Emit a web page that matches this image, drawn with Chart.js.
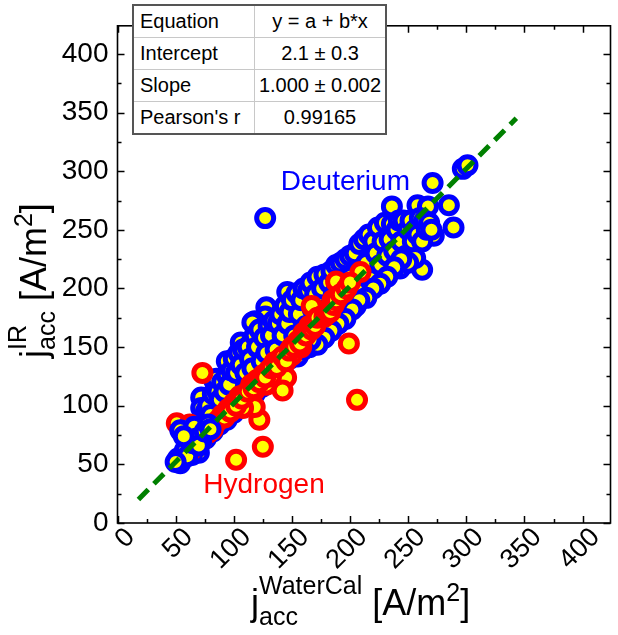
<!DOCTYPE html>
<html>
<head>
<meta charset="utf-8">
<script src="https://cdn.jsdelivr.net/npm/chart.js@4.4.1/dist/chart.umd.min.js"></script>
<style>
  html, body { margin: 0; padding: 0; background: #fff; overflow: hidden; }
  #wrap { position: relative; width: 624px; height: 635px; }
  #fit-table {
    position: absolute; left: 132px; top: 4px; width: 255px; height: 127px;
    border-collapse: collapse; background: #fff; color: #000;
    font: 20px "Liberation Sans", Arial, sans-serif;
    border: 2px solid #555;
  }
  #fit-table td { border: 1px solid #c8c8c8; padding: 0 0 0 6px; height: 31px; white-space: nowrap; }
  #fit-table td.k { width: 114px; }
  #fit-table td.v { text-align: center; padding: 0; }
</style>
</head>
<body>
<div id="wrap">
  <canvas id="chart"></canvas>
  <table id="fit-table">
    <tr><td class="k">Equation</td><td class="v">y = a + b*x</td></tr>
    <tr><td class="k">Intercept</td><td class="v">2.1 ± 0.3</td></tr>
    <tr><td class="k">Slope</td><td class="v">1.000 ± 0.002</td></tr>
    <tr><td class="k">Pearson's r</td><td class="v">0.99165</td></tr>
  </table>
</div>
<script>
// --- data [x, y] in A/m^2 ---
const deuterium = [
  [219,378],[297,302],[301,305],[271,290],[236,270],[258,271],[267,270],[285,271],[289,252],[272,245],
  [262,216],[243,217],[127,260],[223,227],[146,197],[128,184],[127,176],[118,172],[154,185],[173,206],
  [218,243],[235,244],[244,248],[250,246],[245,233],[116,171],[106,154],[128,156],[94,138],[113,138],
  [83,122],[100,123],[72,107],[159,170],[170,204],[126,131],[85,123],[84,104],[116,155],[110,138],
  [84,89],[103,104],[133,135],[95,114],[112,137],[125,132],[130,142],[144,147],[81,98],[72,98],
  [115,153],[160,158],[86,92],[88,96],[90,88],[92,100],[96,102],[98,110],[102,112],[104,118],
  [108,126],[110,115],[114,122],[118,130],[120,140],[122,125],[124,148],[132,150],[134,140],[136,160],
  [138,145],[140,155],[142,138],[148,165],[150,152],[152,175],[156,160],[158,148],[162,175],[164,165],
  [166,190],[168,160],[172,178],[175,195],[176,170],[178,185],[180,200],[182,172],[184,190],[186,210],
  [188,176],[190,198],[192,188],[194,215],[196,184],[198,205],[200,195],[202,218],[204,190],[206,208],
  [208,228],[210,200],[212,215],[214,235],[216,205],[220,220],[222,245],[224,212],[226,232],[228,248],
  [230,222],[232,238],[234,255],[236,228],[238,245],[240,255],[242,235],[246,252],[248,240],[250,256],
  [252,232],[254,250],[256,256],[260,254],[264,252],[230,252],[225,250],[210,225],[200,210],[190,205],
  [180,190],[170,185],[165,178],[160,180],[150,168],[140,162],[135,152],[228,214],[236,220],[215,198],
  [205,185],[195,178],[185,170],[175,160],[165,150],[155,142],
  [76,95],[78,100],[80,92],[82,110],[86,112],[88,105],[90,120],[92,112],[94,126],[96,118],
  [98,130],[100,140],[102,128],[104,145],[106,135],[108,148],[110,128],[112,150],[114,140],[116,132],
  [118,160],[120,150],[122,165],[124,138],[126,158],[128,145],[130,168],[132,160],[134,172],[136,148],
  [138,170],[140,178],[142,160],[144,185],[146,170],[148,180],[150,190],[152,160],[154,196],[156,178],
  [158,190],[160,200],[162,168],[164,198],[166,205],[168,182],[170,195],[172,210],[174,186],[176,200],
  [178,212],[180,182],[182,205],[184,215],[186,195],[188,220],[190,185],[192,222],[194,200],[196,225],
  [198,192],[200,228],[202,205],[204,230],[206,198],[208,238],[210,212],[212,242],[214,222],[216,246],
  [218,208],[220,240],[222,230],[224,252],[226,220],[228,240],[230,256],[232,228],[234,242],[236,255],
  [238,232],[240,250],[242,258],[244,240],[246,258],[248,228],[250,250],[252,258],[254,240],[256,250],
  [258,246],[260,260],[262,240],[264,258],[266,250],[268,256],[270,250],[256,226],[250,222],[244,225],
  [238,218],[232,210],[226,204],[220,200],[214,192],[208,190],[202,182],[196,174],[190,170],[184,164],
  [178,158],[172,152],[166,156],[160,148],[154,148],[148,140],[142,132],[136,128],[130,122],[124,116],
  [118,110],[112,104],[106,100],[100,94],[94,88],[88,84],[82,78],[76,72],[70,60],[64,58]
];
// lower-left deuterium points sit on top of the hydrogen ones
const deuteriumFront = [
  [54,79],[54,51],[63,65],[66,82],[72,70],[52,55],[56,58],[58,62],[60,57],[62,70],
  [65,68],[68,72],[70,66],[75,78],[78,84],[80,80],[50,52],[57,74]
];
const hydrogen = [
  [206,105],[199,153],[102,54],[125,65],[122,88],[73,128],[51,85],[209,214],[188,206],[195,197],
  [181,182],[177,178],[182,183],[143,124],[137,135],[145,124],[142,113],[118,113],[118,99],[98,96],
  [171,171],[167,185],[135,137],[60,62],[65,66],[70,72],[75,76],[80,82],[85,86],[90,92],
  [95,97],[100,102],[105,108],[110,110],[115,118],[120,122],[125,126],[130,130],[140,140],[150,150],
  [155,155],[160,162],[165,168],[175,176],[185,190],[190,193],[62,84],[108,98],[128,118],[132,125],
  [150,143],[158,150],[64,63],[68,66],[72,70],[78,77],[82,80],[87,88],[92,90],[97,95],
  [102,100],[107,106],[112,112],[117,115],[122,120],[127,124],[132,132],[137,133],[142,142],[145,138],
  [148,147],[152,150],[157,153],[162,160],[167,165],[170,168],[172,175],[178,176],[180,178],[183,180],
  [186,186],[188,190],[192,195],[197,200],[200,205]
];
const fitIntercept = 2.1;
const fitSlope = 1.000;
const fitRangeX = [18, 343];
const xTickValues = [0, 50, 100, 150, 200, 250, 300, 350, 400];
const axisMax = 424;

const FONT = '"Liberation Sans", Arial, sans-serif';
const toPts = arr => arr.map(([x, y]) => ({ x, y }));
const fitLine = fitRangeX.map(x => ({ x, y: fitIntercept + fitSlope * x }));

const pointStyle = (color) => ({
  type: 'scatter',
  pointRadius: 8.5,
  pointHoverRadius: 8.5,
  pointBorderWidth: 5,
  pointBackgroundColor: '#ffff00',
  pointBorderColor: color,
});

function drawRich(ctx, parts) {
  let u = 0;
  for (const p of parts) {
    if (p.stack) {
      let w = 0;
      for (const q of p.stack) {
        ctx.font = `${q.s}px ${FONT}`;
        ctx.fillText(q.t, u, q.dy);
        w = Math.max(w, ctx.measureText(q.t).width);
      }
      u += w;
    } else {
      ctx.font = `${p.s}px ${FONT}`;
      ctx.fillText(p.t, u, p.dy || 0);
      u += ctx.measureText(p.t).width;
    }
  }
}

const framePlugin = {
  id: 'frame',
  afterDraw(chart) {
    const { ctx, chartArea: a, scales: { x, y } } = chart;
    ctx.save();
    ctx.strokeStyle = '#000';
    ctx.lineWidth = 1.6;
    ctx.strokeRect(a.left, a.top, a.right - a.left, a.bottom - a.top);

    // inward ticks on all four sides
    ctx.lineWidth = 1.5;
    ctx.beginPath();
    for (let v = 0; v <= 400; v += 25) {
      const len = v % 50 === 0 ? 7 : 4;
      const px = Math.round(x.getPixelForValue(v)) + 0.5;
      ctx.moveTo(px, a.bottom); ctx.lineTo(px, a.bottom - len);
      ctx.moveTo(px, a.top); ctx.lineTo(px, a.top + len);
      const py = Math.round(y.getPixelForValue(v)) + 0.5;
      ctx.moveTo(a.left, py); ctx.lineTo(a.left + len, py);
      ctx.moveTo(a.right, py); ctx.lineTo(a.right - len, py);
    }
    ctx.stroke();

    // rotated x tick labels
    ctx.fillStyle = '#000';
    ctx.font = `27px ${FONT}`;
    ctx.textAlign = 'right';
    ctx.textBaseline = 'middle';
    for (const v of xTickValues) {
      const px = x.getPixelForValue(v);
      ctx.save();
      ctx.translate(px + 13, a.bottom + 10);
      ctx.rotate(-Math.PI / 4);
      ctx.fillText(String(v), 0, 0);
      ctx.restore();
    }

    // axis titles
    ctx.textAlign = 'left';
    ctx.textBaseline = 'alphabetic';
    ctx.save();
    ctx.translate(251, 615);
    drawRich(ctx, [
      { t: 'j', s: 36 },
      { stack: [{ t: 'WaterCal', s: 25, dy: -21 }, { t: 'acc', s: 25, dy: 10 }] },
      { t: ' [A/m', s: 36 },
      { t: '2', s: 25, dy: -14 },
      { t: ']', s: 36 },
    ]);
    ctx.restore();

    ctx.save();
    ctx.translate(46, 358);
    ctx.rotate(-Math.PI / 2);
    drawRich(ctx, [
      { t: 'j', s: 36 },
      { stack: [{ t: 'IR', s: 25, dy: -20 }, { t: 'acc', s: 25, dy: 9 }] },
      { t: ' [A/m', s: 36 },
      { t: '2', s: 25, dy: -14 },
      { t: ']', s: 36 },
    ]);
    ctx.restore();

    // series labels
    ctx.font = `28px ${FONT}`;
    ctx.textAlign = 'center';
    ctx.fillStyle = '#0000ff';
    ctx.fillText('Deuterium', x.getPixelForValue(196), y.getPixelForValue(284));
    ctx.fillStyle = '#ff0000';
    ctx.fillText('Hydrogen', x.getPixelForValue(126), y.getPixelForValue(26));
    ctx.restore();
  }
};

new Chart(document.getElementById('chart'), {
  type: 'scatter',
  data: {
    datasets: [
      {
        type: 'line',
        label: 'Fit',
        data: fitLine,
        borderColor: '#008000',
        borderWidth: 5,
        borderDash: [14, 8],
        pointRadius: 0,
        fill: false,
        order: 0,
      },
      { label: 'Deuterium front', data: toPts(deuteriumFront), ...pointStyle('#0000ff'), order: 1 },
      { label: 'Hydrogen', data: toPts(hydrogen), ...pointStyle('#ff0000'), order: 2 },
      { label: 'Deuterium', data: toPts(deuterium), ...pointStyle('#0000ff'), order: 3 },
    ],
  },
  options: {
    responsive: true,
    maintainAspectRatio: false,
    animation: false,
    layout: { padding: { top: 22.7, right: 4.5, left: 0, bottom: 0 } },
    plugins: { legend: { display: false }, tooltip: { enabled: false } },
    scales: {
      x: {
        type: 'linear',
        min: 0,
        max: axisMax,
        grid: { display: false, drawTicks: false },
        border: { display: false },
        ticks: { display: false },
        afterFit: (s) => { s.height = 112; },
      },
      y: {
        type: 'linear',
        min: 0,
        max: axisMax,
        grid: { display: false, drawTicks: false },
        border: { display: false },
        ticks: {
          stepSize: 50,
          includeBounds: false,
          color: '#000',
          padding: 9,
          font: { family: FONT, size: 28 },
        },
        afterFit: (s) => { s.width = 117.5; },
      },
    },
  },
  plugins: [framePlugin],
});
</script>
</body>
</html>
